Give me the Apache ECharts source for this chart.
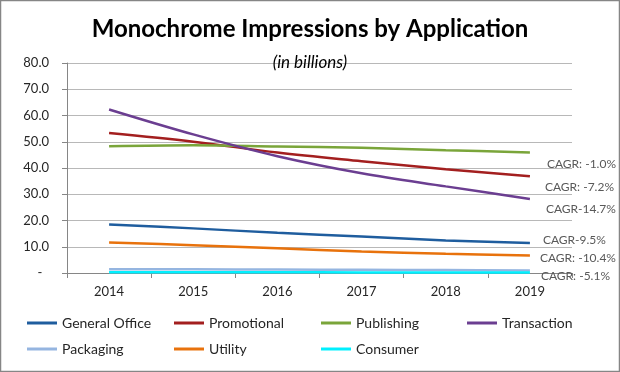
<!DOCTYPE html>
<html><head><meta charset="utf-8">
<script src="https://cdn.jsdelivr.net/npm/echarts@6/dist/echarts.min.js"></script>
<style>html,body{margin:0;padding:0;background:#fff}#c{width:620px;height:372px}</style>
</head><body><div id="c"></div>
<script>
const years = ['2014','2015','2016','2017','2018','2019'];
const generalOffice = [18.5, 17.0, 15.3, 13.9, 12.4, 11.4];
const promotional   = [53.3, 50.0, 45.9, 42.6, 39.5, 36.9];
const publishing    = [48.3, 48.7, 48.2, 47.7, 46.8, 45.9];
const transaction   = [62.3, 52.8, 44.5, 38.0, 33.0, 28.2];
const packaging     = [1.4, 1.4, 1.3, 1.2, 1.1, 1.0];
const utility       = [11.6, 10.6, 9.4, 8.2, 7.3, 6.7];
const consumer      = [0.3, 0.3, 0.3, 0.2, 0.2, 0.2];
const cagrLabels = {
  'General Office': 'CAGR-9.5%',
  'Promotional': 'CAGR: -7.2%',
  'Publishing': 'CAGR: -1.0%',
  'Transaction': 'CAGR-14.7%',
  'Packaging': 'CAGR: -5.1%',
  'Utility': 'CAGR: -10.4%'
};
const FONT = 'Lato';
const seriesDefs = [
  {name:'General Office', data: generalOffice, color:'#1F5D9E', off:[5,-3]},
  {name:'Promotional', data: promotional, color:'#A31F1F', off:[7,11]},
  {name:'Publishing', data: publishing, color:'#7AA53A', off:[9,12]},
  {name:'Transaction', data: transaction, color:'#6B3E91', off:[8,10]},
  {name:'Packaging', data: packaging, color:'#95B5E0', off:[3,6]},
  {name:'Utility', data: utility, color:'#E8720C', off:[2,3]},
  {name:'Consumer', data: consumer, color:'#00F0FF', off:null}
];
const legendPos = [[22,311],[169,311],[316,311],[462,311],[22,337],[169,337],[316,337]];
const chart = echarts.init(document.getElementById('c'));
chart.setOption({
  animation:false,
  graphic:[{type:'rect', shape:{x:0.5,y:0.5,width:619,height:371}, style:{fill:'none', stroke:'#868686', lineWidth:1.5}, silent:true}],
  title:[
    {text:'Monochrome Impressions by Application', left:'center', top:12,
     textStyle:{fontFamily:FONT, fontWeight:'bold', fontSize:24, color:'#000'}},
    {text:'(in billions)', left:'center', top:49,
     textStyle:{fontFamily:FONT, fontStyle:'italic', fontWeight:'normal', fontSize:17, color:'#000'}}
  ],
  grid:{left:67, right:48, top:63, bottom:99, containLabel:false},
  legend: seriesDefs.map((s,i) => ({
    data:[s.name], left:legendPos[i][0], top:legendPos[i][1], icon:'rect', itemWidth:30, itemHeight:3,
    textStyle:{fontFamily:FONT, fontSize:14, color:'#262626'}
  })),
  xAxis:{type:'category', data:years, boundaryGap:true,
    axisLine:{lineStyle:{color:'#868686'}},
    axisTick:{show:true, length:5, lineStyle:{color:'#868686'}},
    axisLabel:{fontFamily:FONT, fontSize:13, color:'#262626', margin:12}},
  yAxis:{type:'value', min:0, max:80, interval:10,
    axisLine:{show:true, lineStyle:{color:'#868686'}},
    axisTick:{show:true, length:5, lineStyle:{color:'#868686'}},
    splitLine:{lineStyle:{color:'#b8b8b8'}},
    axisLabel:{fontFamily:FONT, fontSize:13, color:'#262626', margin:18,
      formatter: v => v === 0 ? '-  ' : v.toFixed(1)}},
  series: seriesDefs.map(s => ({
    name:s.name, type:'line', data:s.data, smooth:0.35, symbol:'none',
    lineStyle:{width:2.5, color:s.color}, itemStyle:{color:s.color},
    endLabel: s.off ? {show:true, formatter: () => cagrLabels[s.name], offset:s.off,
      fontFamily:FONT, fontSize:12, color:'#595959'} : {show:false}
  }))
});
</script></body></html>
